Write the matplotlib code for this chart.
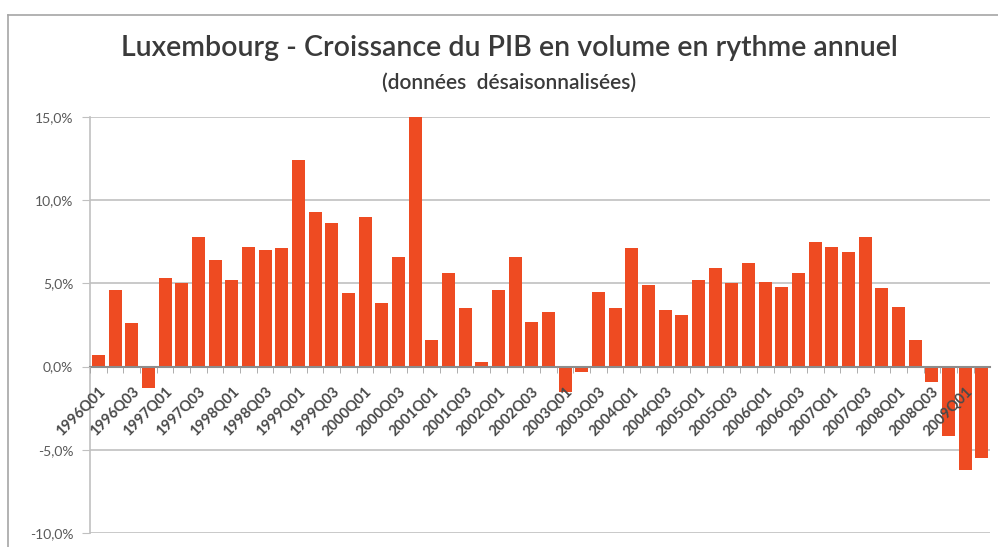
import numpy as np
import matplotlib
matplotlib.use("Agg")
import matplotlib.pyplot as plt
from matplotlib.ticker import FuncFormatter, FixedLocator
from matplotlib.transforms import ScaledTranslation

# quarterly GDP growth (% yoy), 1996Q1 .. 2009Q2
years = list(range(1996, 2010))
quarters = [f"{y}Q0{q}" for y in years for q in (1, 2, 3, 4)][:54]
growth = [
    0.7, 4.6, 2.6, -1.3,
    5.3, 5.0, 7.8, 6.4,
    5.2, 7.2, 7.0, 7.1,
    12.4, 9.3, 8.6, 4.4,
    9.0, 3.8, 6.6, 15.0,
    1.6, 5.6, 3.5, 0.3,
    4.6, 6.6, 2.7, 3.3,
    -1.5, -0.3, 4.5, 3.5,
    7.1, 4.9, 3.4, 3.1,
    5.2, 5.9, 5.0, 6.2,
    5.1, 4.8, 5.6, 7.5,
    7.2, 6.9, 7.8, 4.7,
    3.6, 1.6, -0.9, -4.2,
    -6.2, -5.5,
]
tick_labels = quarters[::2]
y_ticks = [-10, -5, 0, 5, 10, 15]

bar_color = "#EE4B22"
text_color = "#3A3A3A"
grid_color = "#C0C0C0"

plt.rcParams["font.family"] = ["Lato", "DejaVu Sans"]

fig = plt.figure(figsize=(9.98, 5.47), dpi=100)
ax = fig.add_axes([0.0902, 0.0256, 0.902, 0.7605])

x = np.arange(len(growth))
# gridlines drawn by hand so they stay behind the bars while tick labels go on top
for yv in y_ticks:
    if yv != 0:
        ax.axhline(yv, color=grid_color, linewidth=1.2, zorder=0)
ax.bar(x, growth, width=0.78, color=bar_color, zorder=1)
ax.set_axisbelow(False)

ax.set_xlim(-0.5, len(growth) - 0.5)
ax.set_ylim(-10, 15)
ax.set_yticks(y_ticks)
ax.yaxis.set_major_formatter(FuncFormatter(lambda v, _: f"{v:.1f}%".replace(".", ",")))
ax.tick_params(axis="y", length=6, color=grid_color, labelsize=10, labelcolor="#595959", pad=6)

# category axis sits on the zero line
ax.spines["bottom"].set_position(("data", 0))
ax.spines["bottom"].set_color("#8C8C8C")
ax.spines["bottom"].set_linewidth(1.5)
ax.spines["left"].set_color(grid_color)
ax.spines["left"].set_linewidth(1.2)
ax.spines["top"].set_visible(False)
ax.spines["right"].set_visible(False)

ax.set_xticks(x[::2])
ax.set_xticklabels(tick_labels, rotation=45, ha="right", va="top", rotation_mode="anchor",
                   fontsize=10.5, fontweight="bold", color="#4A4A4A")
shift = ScaledTranslation(4 / 72, 0, fig.dpi_scale_trans)
for lbl in ax.get_xticklabels():
    lbl.set_transform(lbl.get_transform() + shift)
ax.xaxis.set_minor_locator(FixedLocator(x - 0.5))
ax.tick_params(axis="x", which="major", length=0, pad=13)
ax.tick_params(axis="x", which="minor", length=4, color="#A0A0A0")

fig.text(0.51, 0.912, "Luxembourg - Croissance du PIB en volume en rythme annuel",
         ha="center", va="center", fontsize=20.5, color=text_color, fontweight="semibold")
fig.text(0.51, 0.848, "(données  désaisonnalisées)",
         ha="center", va="center", fontsize=15, color=text_color, fontweight="semibold")

# chart frame (top and left edges visible)
fig.add_artist(plt.Line2D([0.008, 1.0], [0.973, 0.973], transform=fig.transFigure,
                          color="#A6A6A6", linewidth=1.2))
fig.add_artist(plt.Line2D([0.008, 0.008], [0.0, 0.973], transform=fig.transFigure,
                          color="#A6A6A6", linewidth=1.2))

fig.savefig("out.png", dpi=100)
